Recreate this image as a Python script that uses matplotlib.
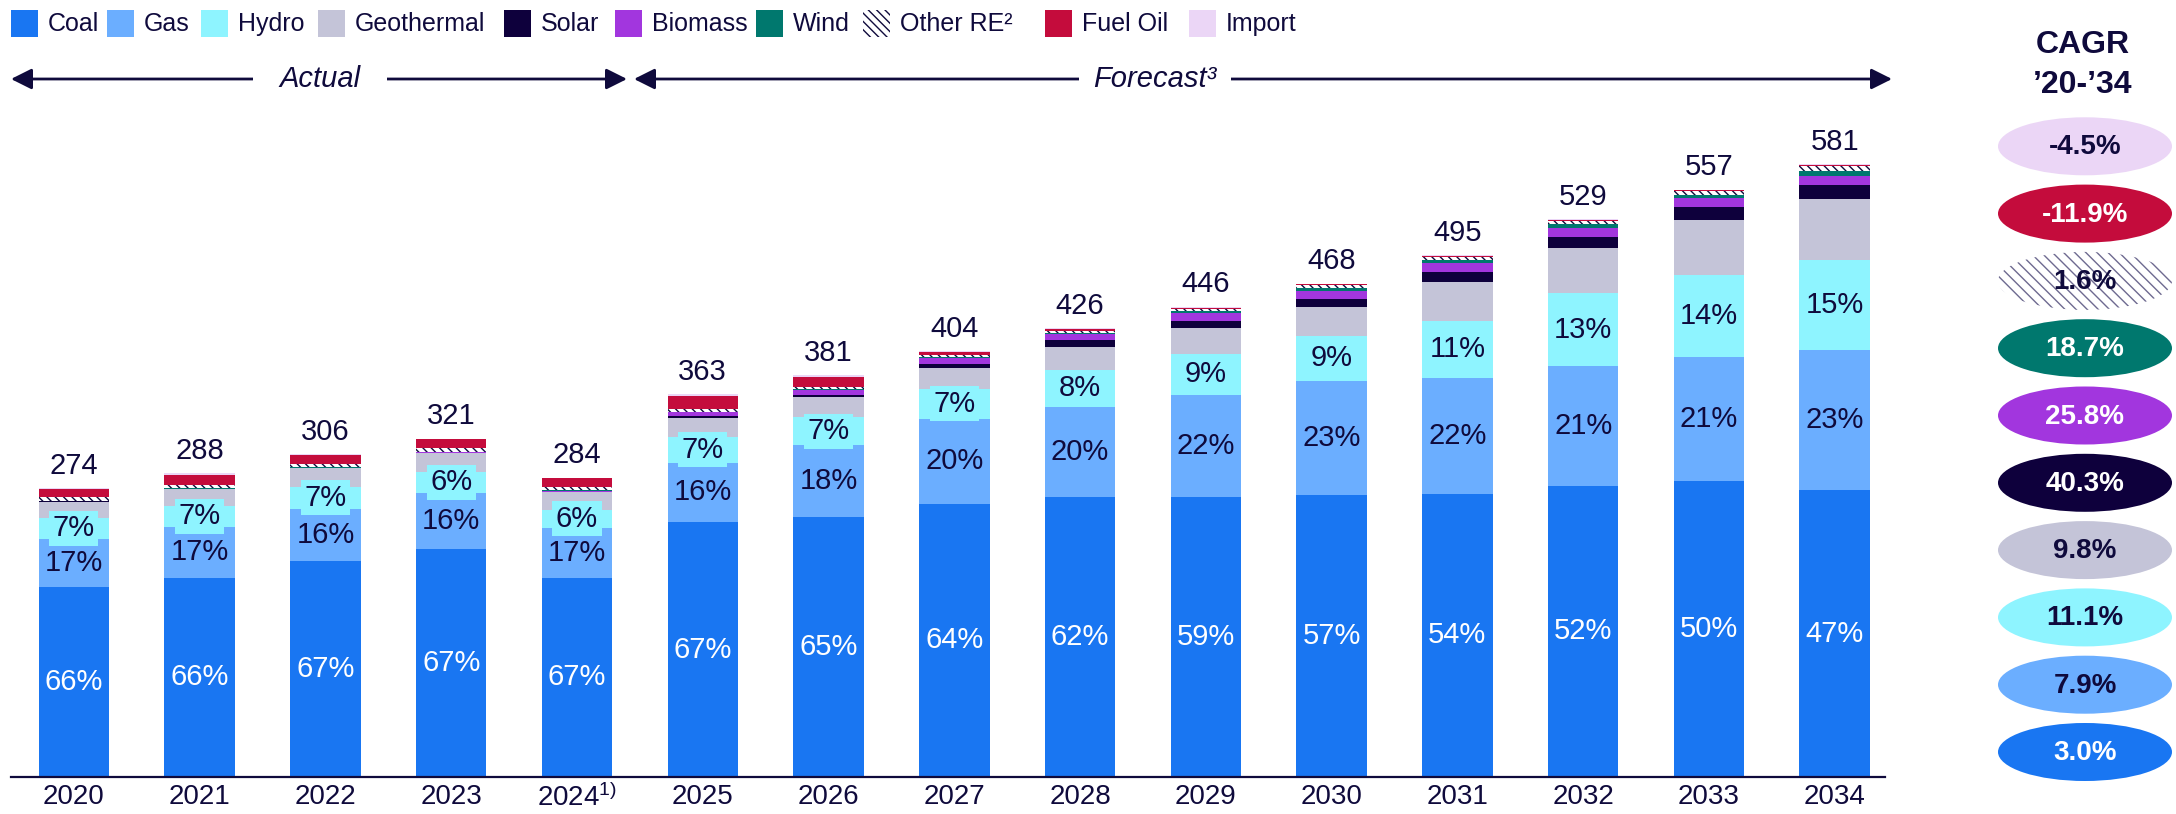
import numpy as np
import matplotlib
matplotlib.use('Agg')
import matplotlib.pyplot as plt
from matplotlib.patches import Ellipse, Rectangle

plt.rcParams['font.family'] = ['Liberation Sans', 'DejaVu Sans']
plt.rcParams['mathtext.fontset'] = 'custom'
plt.rcParams['mathtext.rm'] = 'Liberation Sans'
plt.rcParams['mathtext.it'] = 'Liberation Sans:italic'
plt.rcParams['hatch.linewidth'] = 1.0

# --- data (TWh) ---
years = ['2020', '2021', '2022', '2023', '2024$^{1)}$', '2025', '2026', '2027',
         '2028', '2029', '2030', '2031', '2032', '2033', '2034']
totals = [274, 288, 306, 321, 284, 363, 381, 404, 426, 446, 468, 495, 529, 557, 581]

coal = [180.2, 189.0, 204.7, 216.2, 189.2, 241.8, 246.5, 259.4, 265.4, 265.6, 267.5, 268.7, 276.3, 280.4, 272.0]
gas = [46.0, 48.5, 49.5, 53.0, 47.0, 56.5, 68.0, 80.5, 86.0, 97.0, 108.0, 110.0, 113.5, 118.0, 133.3]
hydro = [19.5, 19.5, 21.0, 20.5, 17.5, 24.5, 27.0, 28.5, 35.0, 39.0, 43.0, 54.0, 69.0, 78.0, 85.2]
geothermal = [15.5, 16.0, 17.5, 17.5, 16.5, 17.5, 18.5, 19.8, 21.7, 24.0, 27.0, 37.0, 43.0, 51.6, 57.5]
solar = [0.12, 0.15, 0.2, 0.3, 0.4, 1.9, 2.5, 3.8, 6.3, 7.0, 8.3, 9.5, 10.8, 12.3, 13.9]
biomass = [0.33, 0.4, 0.4, 0.6, 0.8, 3.8, 5.0, 5.0, 5.7, 7.2, 7.6, 8.2, 8.5, 8.9, 8.2]
wind = [0.45, 0.4, 0.4, 0.4, 0.4, 0.5, 0.6, 1.0, 1.5, 2.0, 2.5, 3.0, 3.8, 3.2, 5.0]
other_re = [3.2, 3.3, 3.5, 3.5, 3.2, 2.2, 1.6, 2.0, 1.8, 2.2, 2.5, 3.0, 2.5, 3.0, 4.0]
fuel_oil = [7.5, 9.5, 8.0, 8.2, 8.2, 13.0, 10.0, 2.8, 1.8, 1.3, 1.0, 1.0, 1.0, 1.0, 1.3]
imports = [1.2, 1.2, 0.8, 0.8, 0.8, 1.3, 1.3, 1.2, 0.8, 0.7, 0.6, 0.6, 0.6, 0.6, 0.6]

coal_pct = [66, 66, 67, 67, 67, 67, 65, 64, 62, 59, 57, 54, 52, 50, 47]
gas_pct = [17, 17, 16, 16, 17, 16, 18, 20, 20, 22, 23, 22, 21, 21, 23]
hydro_pct = [7, 7, 7, 6, 6, 7, 7, 7, 8, 9, 9, 11, 13, 14, 15]

names = ['Coal', 'Gas', 'Hydro', 'Geothermal', 'Solar', 'Biomass', 'Wind',
         'Other RE²', 'Fuel Oil', 'Import']
series = [coal, gas, hydro, geothermal, solar, biomass, wind, other_re, fuel_oil, imports]
cagr = ['3.0%', '7.9%', '11.1%', '9.8%', '40.3%', '25.8%', '18.7%', '1.6%', '-11.9%', '-4.5%']

navy = '#0F0A3C'
colors = ['#1976F2', '#6BAEFF', '#8EF4FF', '#C4C4D8', '#0E003C', '#A236DE',
          '#00786E', 'white', '#C40C3C', '#EBD6F6']
txt_white = [True, False, False, False, True, True, True, False, True, False]

fig = plt.figure(figsize=(21.76, 8.14), dpi=100)
ax = fig.add_axes([11 / 2176, 37 / 814, 1874 / 2176, 738 / 814])

x = np.arange(len(years))
bottom = np.zeros(len(years))
for name, vals, col in zip(names, series, colors):
    vals = np.array(vals)
    if name.startswith('Other'):
        ax.bar(x, vals, 0.56, bottom=bottom, facecolor='white', edgecolor=navy,
               hatch='\\\\\\\\', linewidth=0)
    else:
        ax.bar(x, vals, 0.56, bottom=bottom, color=col, linewidth=0)
    bottom += vals

# labels inside and on top
for i in range(len(years)):
    ax.text(x[i], coal[i] / 2, f'{coal_pct[i]}%', ha='center', va='center',
            color='white', fontsize=21)
    ax.text(x[i], coal[i] + gas[i] / 2, f'{gas_pct[i]}%', ha='center', va='center',
            color=navy, fontsize=21)
    ax.text(x[i], coal[i] + gas[i] + hydro[i] / 2, f'{hydro_pct[i]}%', ha='center',
            va='center', color=navy, fontsize=21,
            bbox=dict(boxstyle='square,pad=0.12', fc=colors[2], ec='none'))
    ax.annotate(str(totals[i]), (x[i], bottom[i]), xytext=(0, 6),
                textcoords='offset points', ha='center', va='bottom',
                fontsize=21, color=navy)

ax.set_xlim(-0.5, 14.4)
ax.set_ylim(0, 700)
ax.set_xticks(x, years)
ax.set_yticks([])
ax.tick_params(axis='x', length=0, pad=5, labelsize=20, labelcolor=navy)
for s in ['top', 'right', 'left']:
    ax.spines[s].set_visible(False)
ax.spines['bottom'].set_color(navy)
ax.spines['bottom'].set_linewidth(1.6)

# overlay in pixel coordinates for legend, arrows, CAGR column
ov = fig.add_axes([0, 0, 1, 1])
ov.set_xlim(0, 2176)
ov.set_ylim(814, 0)
ov.axis('off')

box_x = [11, 107, 201, 318, 504, 615, 756, 863, 1045, 1189]
for bx, name, col in zip(box_x, names, colors):
    if name.startswith('Other'):
        ov.add_patch(Rectangle((bx, 10), 27, 27, facecolor='white', edgecolor=navy,
                               hatch='\\\\\\\\', linewidth=0))
    else:
        ov.add_patch(Rectangle((bx, 10), 27, 27, facecolor=col, linewidth=0))
    ov.text(bx + 37, 24, name, ha='left', va='center', fontsize=18, color=navy)

arrow = dict(arrowstyle='<|-|>,head_length=0.9,head_width=0.45', color=navy, lw=2,
             shrinkA=0, shrinkB=0, mutation_scale=14)
ov.annotate('', xy=(11, 79), xytext=(627, 79), arrowprops=arrow)
ov.annotate('', xy=(634, 79), xytext=(1892, 79), arrowprops=arrow)
ov.text(320, 79, 'Actual', ha='center', va='center', fontsize=21, style='italic',
        color=navy, bbox=dict(boxstyle='square,pad=0.9', fc='white', ec='none'))
ov.text(1155, 79, 'Forecast³', ha='center', va='center', fontsize=21, style='italic',
        color=navy, bbox=dict(boxstyle='square,pad=0.5', fc='white', ec='none'))

# CAGR column
ov.text(2083, 45, 'CAGR', ha='center', va='center', fontsize=23, fontweight='bold', color=navy)
ov.text(2083, 85, '’20-’34', ha='center', va='center', fontsize=23, fontweight='bold', color=navy)
cy = 752
for name, col, lab, wt in zip(names, colors, cagr, txt_white):
    if name.startswith('Other'):
        ov.add_patch(Ellipse((2085, cy), 174, 58, facecolor='white', edgecolor='#6E6A90',
                             hatch='\\\\\\', linewidth=0))
    else:
        ov.add_patch(Ellipse((2085, cy), 174, 58, facecolor=col, linewidth=0))
    ov.text(2085, cy + 1, lab, ha='center', va='center', fontsize=20, fontweight='bold',
            color='white' if wt else navy)
    cy -= 67.3

fig.savefig('out.png', dpi=100)
